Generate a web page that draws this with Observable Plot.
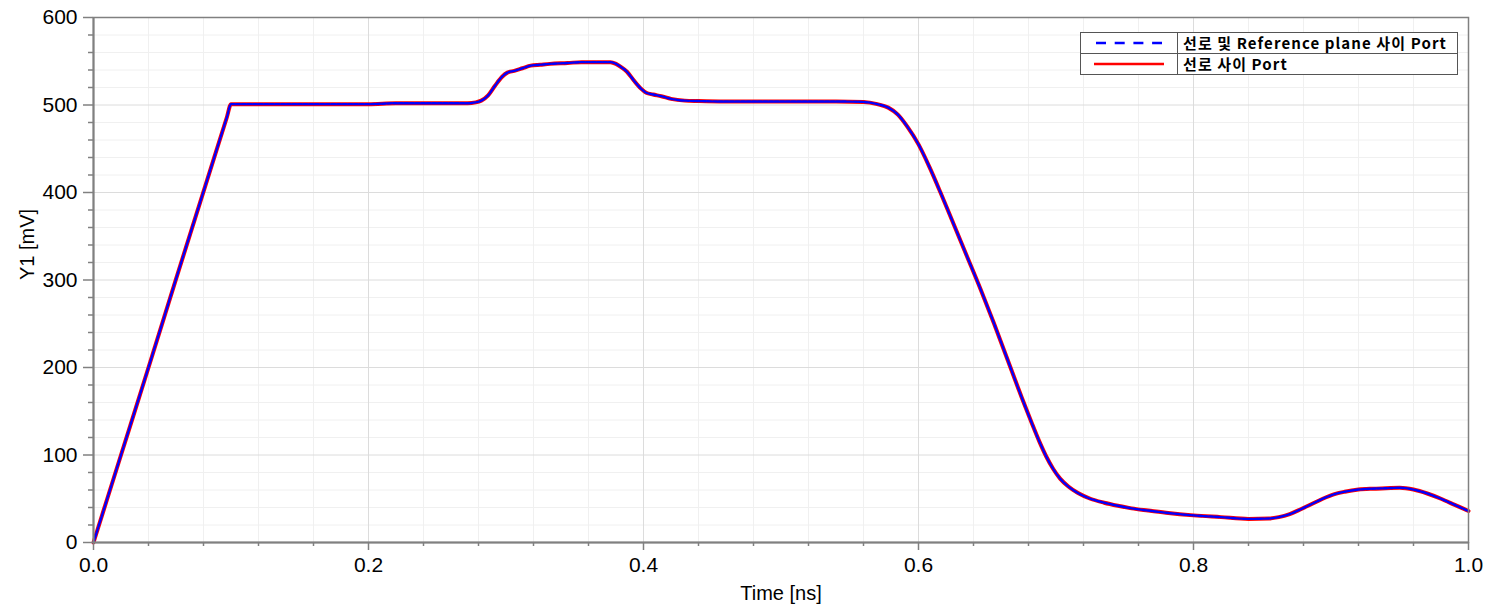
<!DOCTYPE html>
<html>
<head>
<meta charset="utf-8">
<script src="https://cdn.jsdelivr.net/npm/d3@7"></script>
<script src="https://cdn.jsdelivr.net/npm/@observablehq/plot@0.6"></script>
<style>
  html, body { margin: 0; padding: 0; background: #fff; }
  #wrap { position: relative; width: 1495px; height: 610px; }
  #legend {
    position: absolute; left: 1080px; top: 32px; width: 376px;
    border: 1px solid #555; background: #fff;
    font-family: "Noto Sans CJK KR", "Noto Sans", sans-serif; font-weight: bold; font-size: 15px;
  }
  .row { display: flex; height: 20px; align-items: center; overflow: hidden; }
  .row + .row { border-top: 1px solid #555; }
  .sym { width: 96px; height: 100%; border-right: 1px solid #555; display: flex; align-items: center; justify-content: center; }
  .lab { padding-left: 5px; line-height: 20px; height: 20px; white-space: nowrap; color: #000; letter-spacing: 1.1px; }
</style>
</head>
<body>
<div id="wrap"></div>
<script>
// ---- data ----
const time = [0, 0.02, 0.04, 0.06, 0.08, 0.097, 0.1, 0.103, 0.15, 0.2, 0.22, 0.26, 0.272, 0.278, 0.282, 0.287, 0.292, 0.297, 0.301, 0.306, 0.312, 0.318, 0.325, 0.332, 0.345, 0.355, 0.368, 0.376, 0.38, 0.384, 0.388, 0.393, 0.398, 0.402, 0.407, 0.413, 0.42, 0.43, 0.44, 0.46, 0.5, 0.54, 0.56, 0.57, 0.578, 0.585, 0.592, 0.6, 0.608, 0.616, 0.625, 0.635, 0.645, 0.655, 0.665, 0.675, 0.682, 0.688, 0.693, 0.698, 0.703, 0.709, 0.716, 0.725, 0.735, 0.745, 0.755, 0.767, 0.78, 0.8, 0.82, 0.84, 0.855, 0.862, 0.87, 0.878, 0.886, 0.894, 0.902, 0.91, 0.92, 0.93, 0.94, 0.95, 0.96, 0.97, 0.98, 0.99, 1.0];
const refPlanePort = [0, 100, 200, 301, 401, 486, 501, 501, 501, 501, 502, 502, 502, 503, 505, 511, 522, 532, 537, 539, 542, 545, 546, 547, 548, 549, 549, 549, 547, 543, 538, 528, 519, 514, 512, 510, 507, 505, 504.5, 504, 504, 504, 503.5, 501, 497, 489, 475, 455, 429, 400, 366, 328, 290, 250, 208, 166, 138, 115, 98, 84, 73, 64, 56.5, 50, 45.5, 42, 39, 36.5, 34, 31, 29, 27, 27.5, 29, 32.5, 38, 44, 50, 55, 58, 60.5, 61.5, 62, 62.5, 60.5, 56, 50, 43, 36];
const linePort = [0, 100, 200, 301, 401, 486, 501, 501, 501, 501, 502, 502, 502, 503, 505, 511, 522, 532, 537, 539, 542, 545, 546, 547, 548, 549, 549, 549, 547, 543, 538, 528, 519, 514, 512, 510, 507, 505, 504.5, 504, 504, 504, 503.5, 501, 497, 489, 475, 455, 429, 400, 366, 328, 290, 250, 208, 166, 138, 115, 98, 84, 73, 64, 56.5, 50, 45.5, 42, 39, 36.5, 34, 31, 29, 27, 27.5, 29, 32.5, 38, 44, 50, 55, 58, 60.5, 61.5, 62, 62.5, 60.5, 56, 50, 43, 36];
const seriesNames = ["선로 및 Reference plane 사이 Port", "선로 사이 Port"];
const xMajor = [0, 0.2, 0.4, 0.6, 0.8, 1.0];
const xMinor = d3.range(0, 26).map(i => i * 0.04).filter(v => v <= 1.0001 && Math.abs(v / 0.2 - Math.round(v / 0.2)) > 1e-6);
const yMajor = [0, 100, 200, 300, 400, 500, 600];
const yMinor = d3.range(0, 31).map(i => i * 20).filter(v => v % 100 !== 0);
const xLabel = "Time [ns]";
const yLabel = "Y1 [mV]";

const refRows = time.map((t, i) => ({t, v: refPlanePort[i]}));
const portRows = time.map((t, i) => ({t, v: linePort[i]}));

const axisGray = "#808080";

const chart = Plot.plot({
  width: 1495, height: 610,
  marginLeft: 93, marginRight: 27, marginTop: 17, marginBottom: 68,
  x: {domain: [0, 1]},
  y: {domain: [0, 600]},
  style: {fontFamily: "'Liberation Sans', Arial, sans-serif", fontSize: "21px", color: "#000", background: "#fff", overflow: "visible"},
  marks: [
    Plot.gridX(xMinor, {stroke: "#f0f0f0", strokeOpacity: 1, strokeWidth: 1}),
    Plot.gridY(yMinor, {stroke: "#f0f0f0", strokeOpacity: 1, strokeWidth: 1}),
    Plot.gridX(xMajor, {stroke: "#dcdcdc", strokeOpacity: 1, strokeWidth: 1}),
    Plot.gridY(yMajor, {stroke: "#dcdcdc", strokeOpacity: 1, strokeWidth: 1}),
    Plot.line(portRows, {x: "t", y: "v", stroke: "#ff0000", strokeWidth: 4, curve: "monotone-x"}),
    Plot.line(refRows, {x: "t", y: "v", stroke: "#0000ff", strokeWidth: 2.4, strokeDasharray: "4,1.6", curve: "monotone-x"}),
    Plot.frame({stroke: axisGray, strokeWidth: 1.5}),
    Plot.ruleX([0], {stroke: axisGray, strokeWidth: 2}),
    Plot.ruleY([0], {stroke: axisGray, strokeWidth: 2}),
    Plot.axisX(xMinor, {tickSize: 4, tickFormat: () => "", stroke: axisGray, strokeWidth: 1.5, label: null}),
    Plot.axisY(yMinor, {tickSize: 5, tickFormat: () => "", stroke: axisGray, strokeWidth: 1.5, label: null}),
    Plot.axisX(xMajor, {tickSize: 8, tickPadding: 7, tickFormat: d => d.toFixed(1), stroke: axisGray, strokeWidth: 1.5, fill: "#000", label: null}),
    Plot.axisY(yMajor, {tickSize: 10, tickPadding: 6, tickFormat: d => String(d), stroke: axisGray, strokeWidth: 1.5, fill: "#000", label: null}),
    Plot.text([xLabel], {frameAnchor: "bottom", dy: 57, text: d => d, fill: "#000", fontSize: 20}),
    Plot.text([yLabel], {frameAnchor: "left", dx: -66, rotate: -90, text: d => d, fill: "#000", fontSize: 20})
  ]
});

const wrap = document.getElementById("wrap");
wrap.appendChild(chart);

const legend = document.createElement("div");
legend.id = "legend";
legend.innerHTML = `
  <div class="row"><div class="sym"><svg width="70" height="6"><line x1="2" y1="3" x2="68" y2="3" stroke="#0000ff" stroke-width="2.5" stroke-dasharray="10,8.7"/></svg></div><div class="lab">${seriesNames[0]}</div></div>
  <div class="row"><div class="sym"><svg width="74" height="6"><line x1="2" y1="3" x2="72" y2="3" stroke="#ff0000" stroke-width="2.5"/></svg></div><div class="lab">${seriesNames[1]}</div></div>`;
wrap.appendChild(legend);
</script>
</body>
</html>
